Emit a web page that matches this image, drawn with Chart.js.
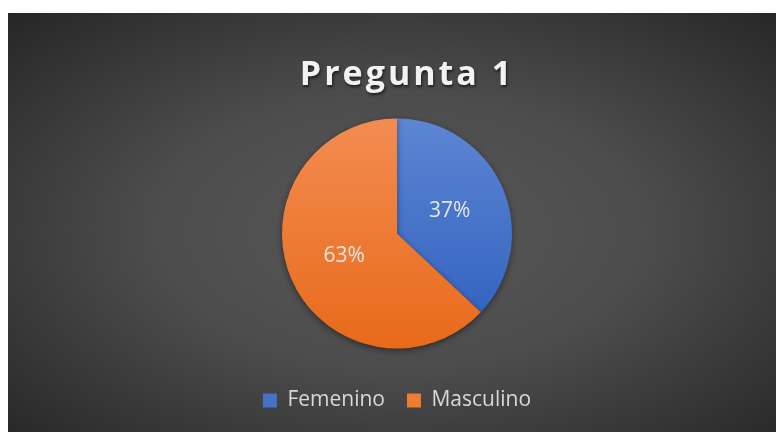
<!DOCTYPE html>
<html>
<head>
<meta charset="utf-8">
<script src="https://cdn.jsdelivr.net/npm/chart.js@4"></script>
<style>
  html, body { margin: 0; padding: 0; background: #fff; }
  #wrap {
    position: absolute; left: 8px; top: 13px; width: 768px; height: 419px;
    background: radial-gradient(ellipse farthest-corner at 51% 52%, #585858 0%, #4c4c4c 45%, #262626 100%);
  }
</style>
</head>
<body>
<div id="wrap"><canvas id="myChart" width="768" height="419"></canvas></div>
<script>
const titleText = "Pregunta 1";
const categories = ["Femenino", "Masculino"];
const values = [37, 63];
const solidColors = ["#4472c4", "#ed7d31"];
const gradTop = ["#5d86d2", "#f38c52"];
const gradBottom = ["#2d5ebe", "#e86a19"];

const RADIUS = 115;

// fill each slice with a vertical gradient across the whole pie
const sliceFill = (ctx) => {
  const i = ctx.dataIndex;
  const area = ctx.chart.chartArea;
  if (!area) return solidColors[i];
  const cy = (area.top + area.bottom) / 2;
  const g = ctx.chart.ctx.createLinearGradient(0, cy - RADIUS, 0, cy + RADIUS);
  g.addColorStop(0, gradTop[i]);
  g.addColorStop(1, gradBottom[i]);
  return g;
};

const titlePlugin = {
  id: "bigTitle",
  afterDraw(chart) {
    const c = chart.ctx;
    c.save();
    c.font = "bold 34px 'Open Sans'";
    c.letterSpacing = "3px";
    c.textAlign = "center";
    c.textBaseline = "alphabetic";
    c.shadowColor = "rgba(0,0,0,0.6)";
    c.shadowBlur = 3;
    c.shadowOffsetX = 1;
    c.shadowOffsetY = 2;
    c.fillStyle = "#f2f2f2";
    c.fillText(titleText, chart.width / 2 + 15, 72);
    c.restore();
  },
};

const shadowPlugin = {
  id: "pieShadow",
  beforeDatasetDraw(chart) {
    const c = chart.ctx;
    c.save();
    c.shadowColor = "rgba(0,0,0,0.45)";
    c.shadowBlur = 6;
    c.shadowOffsetY = 2;
  },
  afterDatasetDraw(chart) {
    chart.ctx.restore();
  },
};

const pctPlugin = {
  id: "pctLabels",
  afterDatasetsDraw(chart) {
    const c = chart.ctx;
    const total = values.reduce((a, b) => a + b, 0);
    const meta = chart.getDatasetMeta(0);
    c.save();
    c.font = "21px 'Open Sans'";
    c.fillStyle = "#e6e6e6";
    c.textAlign = "center";
    c.textBaseline = "middle";
    meta.data.forEach((arc, i) => {
      const p = arc.getCenterPoint();
      c.fillText(Math.round((values[i] / total) * 100) + "%", p.x, p.y);
    });
    c.restore();
  },
};

document.addEventListener("DOMContentLoaded", () => {
  const ctx = document.getElementById("myChart").getContext("2d");
  const config = {
    type: "pie",
    data: {
      labels: categories,
      datasets: [
        {
          data: values,
          backgroundColor: sliceFill,
          borderWidth: 0,
          radius: RADIUS,
        },
      ],
    },
    options: {
      responsive: false,
      animation: false,
      layout: {
        padding: { top: 86, bottom: 11, left: 10, right: 0 },
      },
      plugins: {
        tooltip: { enabled: false },
        legend: {
          position: "bottom",
          labels: {
            color: "#d9d9d9",
            font: { family: "'Open Sans'", size: 21 },
            boxWidth: 14,
            boxHeight: 14,
            padding: 22,
            generateLabels: (chart) =>
              Chart.overrides.pie.plugins.legend.labels
                .generateLabels(chart)
                .map((item, i) => ({
                  ...item,
                  fillStyle: solidColors[i],
                  strokeStyle: solidColors[i],
                  lineWidth: 0,
                })),
          },
        },
      },
    },
    plugins: [shadowPlugin, pctPlugin, titlePlugin],
  };
  new Chart(ctx, config);
});
</script>
</body>
</html>
